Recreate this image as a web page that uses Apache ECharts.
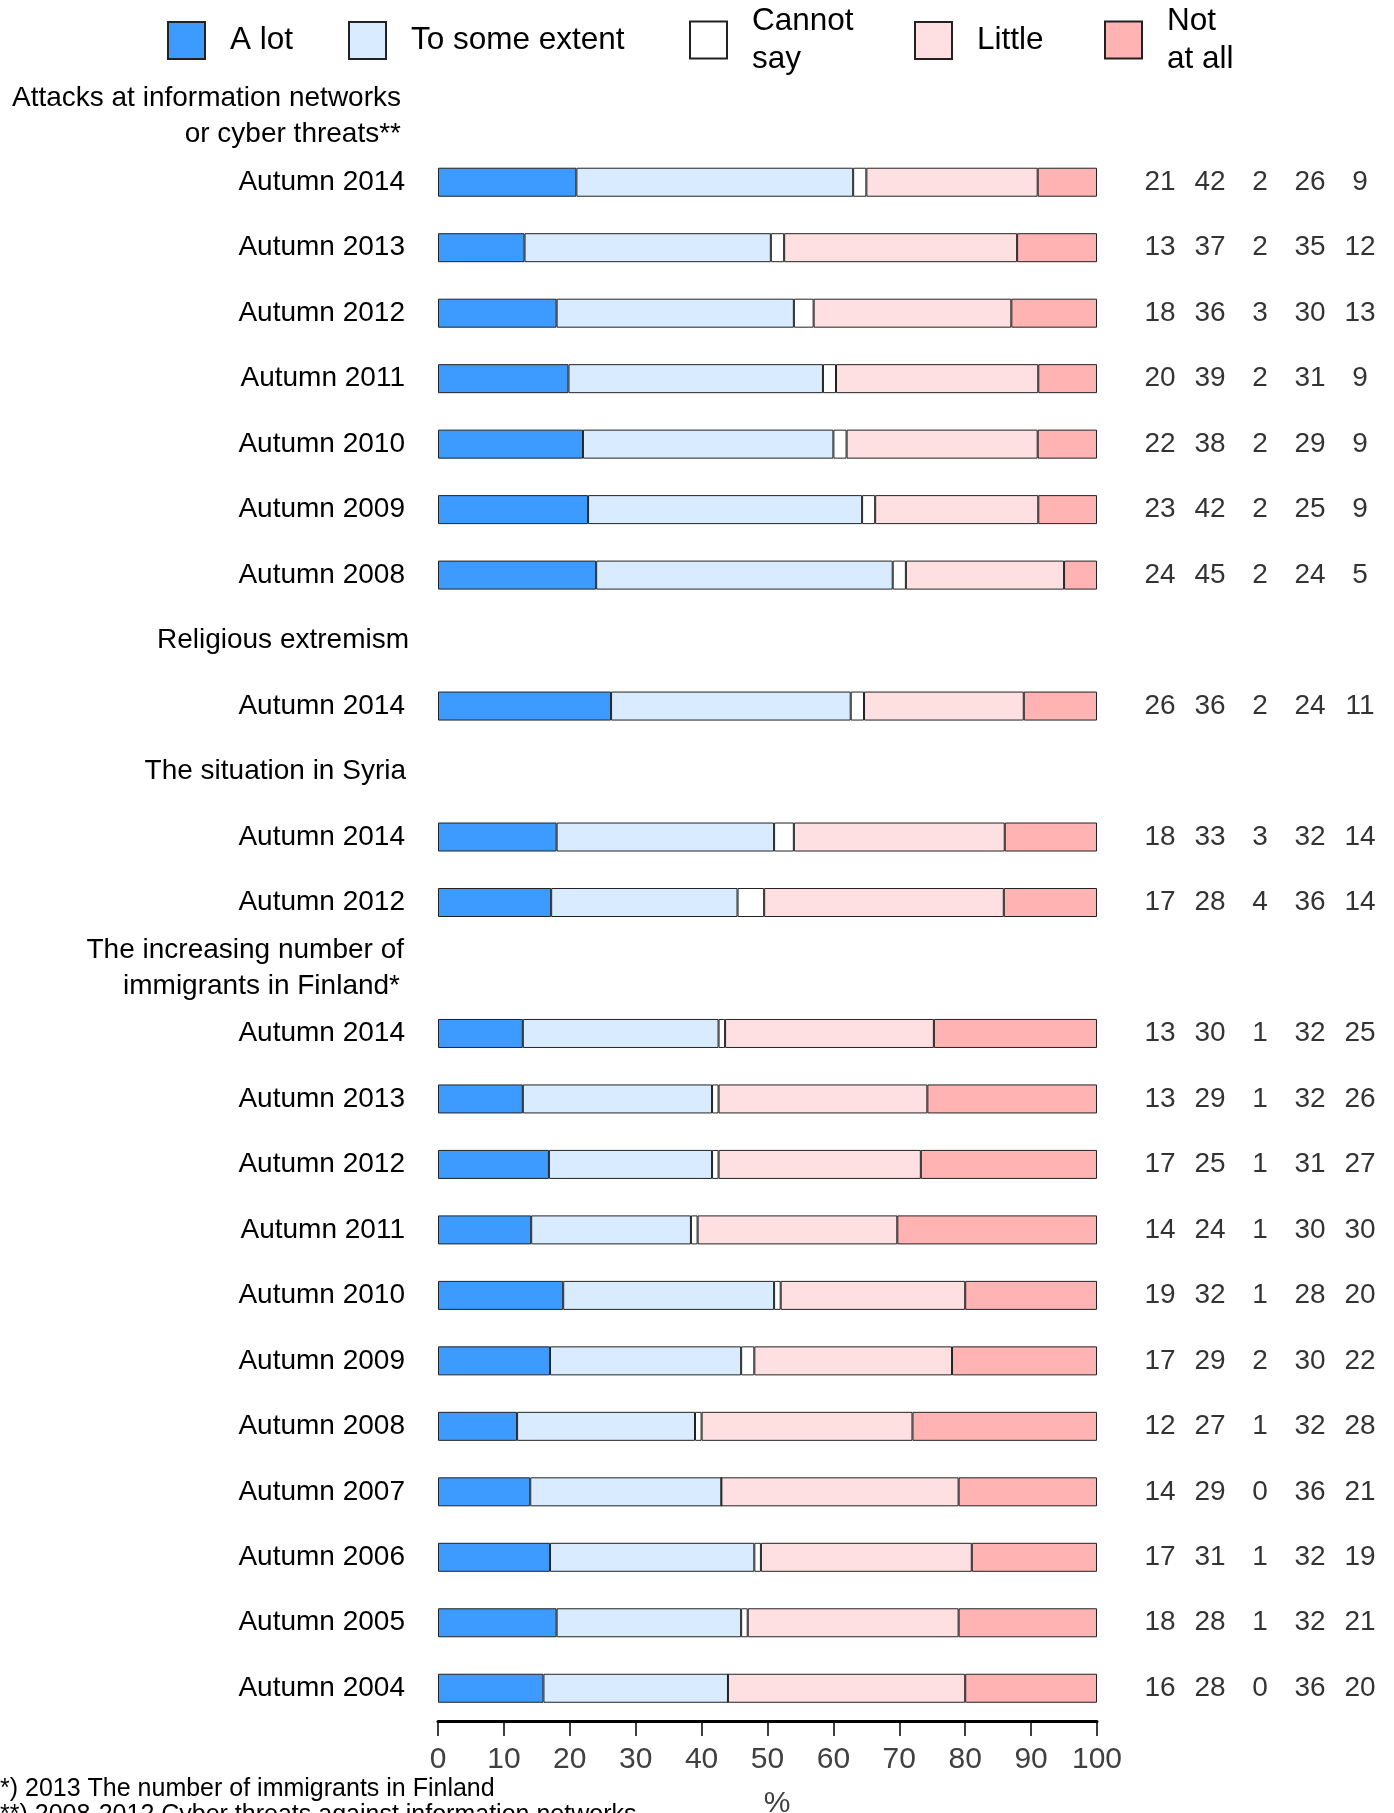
<!DOCTYPE html>
<html>
<head>
<meta charset="utf-8">
<script src="https://cdn.jsdelivr.net/npm/echarts@6/dist/echarts.min.js"></script>
<style>
  html, body { margin: 0; padding: 0; background: #ffffff; }
  #chart { width: 1394px; height: 1813px; }
</style>
</head>
<body>
<div id="chart"></div>
<script>
// ---- Data ----
const groupTitles = [
  'Attacks at information networks\nor cyber threats**',
  'Religious extremism',
  'The situation in Syria',
  'The increasing number of\nimmigrants in Finland*'
];
const groupYears = [
  ['Autumn 2014', 'Autumn 2013', 'Autumn 2012', 'Autumn 2011', 'Autumn 2010', 'Autumn 2009', 'Autumn 2008'],
  ['Autumn 2014'],
  ['Autumn 2014', 'Autumn 2012'],
  ['Autumn 2014', 'Autumn 2013', 'Autumn 2012', 'Autumn 2011', 'Autumn 2010', 'Autumn 2009', 'Autumn 2008',
   'Autumn 2007', 'Autumn 2006', 'Autumn 2005', 'Autumn 2004']
];
const seriesNames = ['A lot', 'To some extent', 'Cannot\nsay', 'Little', 'Not\nat all'];
const aLot       = [21, 13, 18, 20, 22, 23, 24,  26,  18, 17,  13, 13, 17, 14, 19, 17, 12, 14, 17, 18, 16];
const someExtent = [42, 37, 36, 39, 38, 42, 45,  36,  33, 28,  30, 29, 25, 24, 32, 29, 27, 29, 31, 28, 28];
const cannotSay  = [ 2,  2,  3,  2,  2,  2,  2,   2,   3,  4,   1,  1,  1,  1,  1,  2,  1,  0,  1,  1,  0];
const little     = [26, 35, 30, 31, 29, 25, 24,  24,  32, 36,  32, 32, 31, 30, 28, 30, 32, 36, 32, 32, 36];
const notAtAll   = [ 9, 12, 13,  9,  9,  9,  5,  11,  14, 14,  25, 26, 27, 30, 20, 22, 28, 21, 19, 21, 20];
const xTickMin = 0, xTickMax = 100, xTickStep = 10;
const footnotes = [
  '*) 2013 The number of immigrants in Finland',
  '**) 2008-2012 Cyber threats against information networks'
];

// ---- Build rows (headers are empty slots) ----
const valueSets = [aLot, someExtent, cannotSay, little, notAtAll];
const colors = ['#3D9BFF', '#D9ECFF', '#FFFFFF', '#FFE0E2', '#FFB3B3'];
const FONT = "'Liberation Sans', Arial, sans-serif";
// right-edge fine tuning of the group header labels (layout only)
const headerPad = [[8, 8], [0], [3], [5, 9]];

const catKeys = [];
const catLabel = {};
const rowData = []; // index into value arrays, or -1 for header
let k = 0;
groupTitles.forEach((t, g) => {
  const hk = 'h' + g;
  catKeys.push(hk);
  catLabel[hk] = t.split('\n').map((line, li) => '{h' + g + '_' + li + '|' + line + '}').join('\n');
  rowData.push(-1);
  groupYears[g].forEach((y, j) => {
    const key = 'r' + g + '_' + j;
    catKeys.push(key); catLabel[key] = '{y|' + y + '}'; rowData.push(k); k++;
  });
});

const rich = { y: { fontSize: 28, color: '#000', fontFamily: FONT, lineHeight: 36, padding: [0, 4, 0, 0] } };
headerPad.forEach((pads, g) => pads.forEach((p, li) => {
  rich['h' + g + '_' + li] = { fontSize: 28, color: '#000', fontFamily: FONT, lineHeight: 36, padding: [0, p, 0, 0] };
}));

const rowSum = aLot.map((_, i) => valueSets.reduce((s, arr) => s + arr[i], 0));

const barSeries = valueSets.map((arr, si) => ({
  name: seriesNames[si],
  type: 'bar',
  stack: 'total',
  xAxisIndex: 0,
  yAxisIndex: 0,
  barWidth: 29,
  itemStyle: { color: colors[si], borderColor: '#222', borderWidth: 1 },
  emphasis: { disabled: true },
  data: rowData.map(r => r < 0 ? '-' : arr[r] / rowSum[r] * 100)
}));

const numberData = [];
rowData.forEach((r, ri) => {
  if (r < 0) return;
  valueSets.forEach((arr, ci) => numberData.push([ci, ri, arr[r]]));
});

const legendLefts = [167, 348, 689, 914, 1104];
const legends = seriesNames.map((n, i) => ({
  data: [{ name: n, icon: 'rect' }],
  left: legendLefts[i],
  top: n.indexOf('\n') >= 0 ? 2 : 21,
  orient: 'horizontal',
  padding: 0,
  itemWidth: 37,
  itemHeight: 37,
  selectedMode: false,
  textStyle: { fontSize: 31.5, color: '#000', fontFamily: FONT, lineHeight: 38, padding: [0, 0, 0, 20] }
}));

const chart = echarts.init(document.getElementById('chart'), null, { renderer: 'canvas' });
chart.setOption({
  backgroundColor: '#ffffff',
  animation: false,
  textStyle: { fontFamily: FONT },
  legend: legends,
  grid: [
    { left: 438, top: 84, width: 659, height: 1637, containLabel: false, outerBoundsMode: 'none' },
    { left: 1160, top: 84, width: 200, height: 1637, containLabel: false, outerBoundsMode: 'none' }
  ],
  xAxis: [
    {
      type: 'value', gridIndex: 0, min: xTickMin, max: xTickMax, interval: xTickStep,
      position: 'bottom',
      name: '%', nameLocation: 'middle', nameGap: 68,
      nameTextStyle: { fontSize: 30, color: '#404040', fontFamily: FONT, padding: [0, 0, 0, 19] },
      axisLine: { show: true, lineStyle: { color: '#000', width: 3 } },
      axisTick: { show: true, length: 15, lineStyle: { color: '#000', width: 1.5 } },
      axisLabel: { fontSize: 30, color: '#404040', margin: 24, fontFamily: FONT },
      splitLine: { show: false }
    },
    { type: 'value', gridIndex: 1, min: 0, max: 4, show: false }
  ],
  yAxis: [
    {
      type: 'category', gridIndex: 0, inverse: true, data: catKeys,
      axisLine: { show: false }, axisTick: { show: false }, splitLine: { show: false },
      axisLabel: {
        interval: 0, fontSize: 28, color: '#000', margin: 29, lineHeight: 36, fontFamily: FONT,
        formatter: v => catLabel[v],
        rich: rich
      }
    },
    { type: 'category', gridIndex: 1, inverse: true, data: catKeys, show: false }
  ],
  series: barSeries.concat([{
    type: 'scatter',
    xAxisIndex: 1, yAxisIndex: 1,
    symbolSize: 1,
    itemStyle: { color: 'rgba(0,0,0,0)' },
    emphasis: { disabled: true },
    label: {
      show: true, position: 'inside', fontSize: 28, color: '#000', fontFamily: FONT,
      formatter: p => String(p.value[2])
    },
    data: numberData
  }]),
  graphic: footnotes.map((t, i) => ({
    type: 'text', left: 0, top: 1777 + i * 26,
    style: { text: t, fontSize: 25, fill: '#000', fontFamily: FONT }
  }))
});
</script>
</body>
</html>
